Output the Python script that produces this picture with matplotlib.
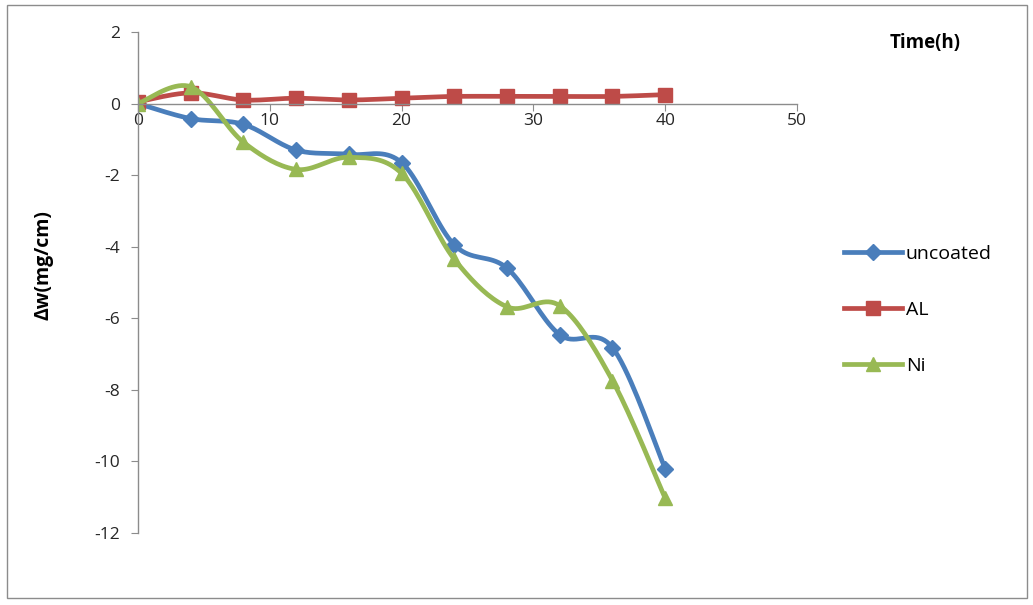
import matplotlib.pyplot as plt
import matplotlib.patches as patches
import numpy as np

plt.rcParams['font.family'] = ['Open Sans', 'DejaVu Sans']
plt.rcParams['axes.unicode_minus'] = False

hours = [0, 4, 8, 12, 16, 20, 24, 28, 32, 36, 40]
uncoated = [0, -0.42, -0.58, -1.3, -1.42, -1.65, -3.95, -4.6, -6.46, -6.82, -10.2]
al = [0.05, 0.3, 0.1, 0.15, 0.1, 0.15, 0.2, 0.2, 0.2, 0.2, 0.25]
ni = [0, 0.47, -1.08, -1.84, -1.5, -1.95, -4.35, -5.68, -5.65, -7.74, -11.03]


def smooth(x, y, n=20):
    # excel-like smoothed line (catmull-rom bezier)
    x = np.asarray(x, float)
    y = np.asarray(y, float)
    px = np.concatenate([[x[0]], x, [x[-1]]])
    py = np.concatenate([[y[0]], y, [y[-1]]])
    t = np.linspace(0, 1, n)[:, None]
    xs, ys = [], []
    for i in range(1, len(px) - 2):
        p0 = np.array([px[i], py[i]])
        p3 = np.array([px[i + 1], py[i + 1]])
        c1 = p0 + (p3 - np.array([px[i - 1], py[i - 1]])) / 6
        c2 = p3 - (np.array([px[i + 2], py[i + 2]]) - p0) / 6
        b = (1 - t) ** 3 * p0 + 3 * (1 - t) ** 2 * t * c1 + 3 * (1 - t) * t ** 2 * c2 + t ** 3 * p3
        xs.append(b[:, 0])
        ys.append(b[:, 1])
    return np.concatenate(xs), np.concatenate(ys)


fig = plt.figure(figsize=(10.33, 6.05), dpi=100)
ax = fig.add_axes([138 / 1033, 1 - 533 / 605, (797 - 138) / 1033, (533 - 32) / 605])

series = [
    ('uncoated', uncoated, '#4A7EBB', 'D', 8),
    ('AL', al, '#BE4B48', 's', 9.5),
    ('Ni', ni, '#98B954', '^', 10.5),
]
for name, vals, col, mk, ms in series:
    sx, sy = smooth(hours, vals)
    ax.plot(sx, sy, color=col, lw=3.4, solid_capstyle='round')
    ax.plot(hours, vals, ls='none', marker=mk, ms=ms, color=col)
    ax.plot([], [], color=col, lw=3.4, marker=mk, ms=ms, label=name)

ax.set_xlim(0, 50)
ax.set_ylim(-12, 2)
ax.set_xticks(range(0, 51, 10))
ax.set_yticks(range(-12, 3, 2))
ax.spines['left'].set_position(('data', 0))
ax.spines['bottom'].set_position(('data', 0))
ax.spines['top'].set_visible(False)
ax.spines['right'].set_visible(False)
for s in ['left', 'bottom']:
    ax.spines[s].set_color('#8c8c8c')
    ax.spines[s].set_linewidth(1.0)
ax.tick_params(axis='both', direction='out', length=5, color='#8c8c8c', labelsize=12.5, labelcolor='#262626')
ax.tick_params(axis='x', pad=2)
ax.tick_params(axis='y', pad=8)
ax.set_ylabel('Δw(mg/cm)', fontsize=14, fontweight='bold')
ax.yaxis.set_label_coords(-0.128, 0.535)
fig.text(890 / 1033, 1 - 43 / 605, 'Time(h)', fontsize=13.5, fontweight='bold', va='center')

fig.legend(loc='center left', bbox_to_anchor=(826 / 1033, 1 - 310 / 605), frameon=False,
           fontsize=14, handlelength=3.0, labelspacing=1.95, handletextpad=0.2)

fig.patches.append(patches.Rectangle((7 / 1033, 1 - 598 / 605), 1020 / 1033, 593 / 605,
                                     transform=fig.transFigure, fill=False, ec='#8c8c8c', lw=1))

fig.savefig('out.png', dpi=100)
